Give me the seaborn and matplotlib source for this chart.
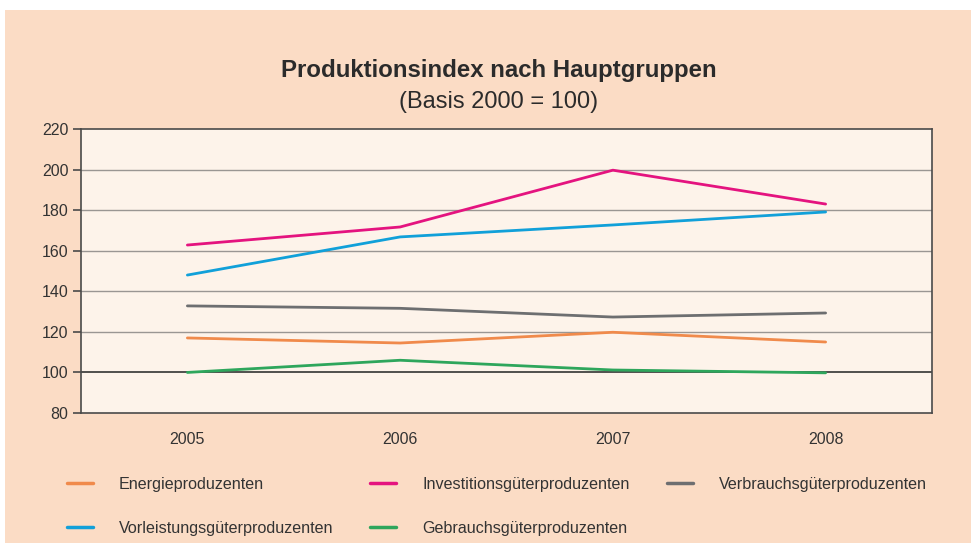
import matplotlib

matplotlib.use("Agg")
import matplotlib.pyplot as plt
import pandas as pd
import seaborn as sns
from matplotlib.lines import Line2D
from matplotlib.patches import Rectangle

years = ["2005", "2006", "2007", "2008"]
energie = [117.0, 114.5, 119.8, 115.0]
investitionsgueter = [162.8, 171.7, 199.7, 183.0]
verbrauchsgueter = [132.8, 131.6, 127.3, 129.3]
vorleistungsgueter = [148.0, 166.8, 172.7, 179.1]
gebrauchsgueter = [100.0, 106.0, 101.2, 99.8]

series = {
    "Energieproduzenten": energie,
    "Investitionsgüterproduzenten": investitionsgueter,
    "Verbrauchsgüterproduzenten": verbrauchsgueter,
    "Vorleistungsgüterproduzenten": vorleistungsgueter,
    "Gebrauchsgüterproduzenten": gebrauchsgueter,
}
colors = {
    "Energieproduzenten": "#f08a4b",
    "Investitionsgüterproduzenten": "#e4137f",
    "Verbrauchsgüterproduzenten": "#6d6e70",
    "Vorleistungsgüterproduzenten": "#11a0d9",
    "Gebrauchsgüterproduzenten": "#2ea65c",
}

rows = []
for name, vals in series.items():
    for y, v in zip(years, vals):
        rows.append({"Jahr": y, "Gruppe": name, "Index": v})
df = pd.DataFrame(rows)

sns.set_style("white")
plt.rcParams["font.family"] = ["Liberation Sans", "DejaVu Sans"]

fig = plt.figure(figsize=(9.71, 5.49), dpi=100, facecolor="white")
fig.patches.append(Rectangle((5 / 971, 6 / 549), 966 / 971, 533 / 549,
                             transform=fig.transFigure, facecolor="#fbdcc5",
                             edgecolor="none", zorder=-5))

ax = fig.add_axes([81 / 971, 136 / 549, 851 / 971, 284 / 549])
ax.set_facecolor("#fdf3ea")

for yv in range(100, 220, 20):
    ax.axhline(yv, color="#333333" if yv == 100 else "#9a9693",
               lw=1.2 if yv == 100 else 1.0, zorder=1)

sns.lineplot(data=df, x="Jahr", y="Index", hue="Gruppe", palette=colors,
             linewidth=2.0, ax=ax, legend=False, zorder=3)

ax.set_xlim(-0.5, 3.5)
ax.set_ylim(80, 220)
ax.set_yticks(range(80, 221, 20))
ax.set_xlabel("")
ax.set_ylabel("")
for s in ax.spines.values():
    s.set_color("#4a4a4a")
    s.set_linewidth(1.2)
ax.tick_params(axis="y", length=6, width=1.2, color="#4a4a4a", labelsize=11.5,
               labelcolor="#333333", left=True, pad=3)
ax.tick_params(axis="x", length=0, labelsize=11.5, labelcolor="#333333", pad=14)

fig.text(499 / 971, 1 - 70 / 549, "Produktionsindex nach Hauptgruppen", ha="center",
         va="center", fontsize=17.3, fontweight="bold", color="#2b2b2b")
fig.text(499 / 971, 1 - 102 / 549, "(Basis 2000 = 100)", ha="center", va="center",
         fontsize=17, color="#2b2b2b")

order = ["Energieproduzenten", "Vorleistungsgüterproduzenten",
         "Investitionsgüterproduzenten", "Gebrauchsgüterproduzenten",
         "Verbrauchsgüterproduzenten"]
handles = [Line2D([], [], color=colors[n], lw=2.5) for n in order]
fig.legend(handles, order, loc="upper left", bbox_to_anchor=(67 / 971, 1 - 477 / 549),
           ncol=3, frameon=False, fontsize=11.65, handlelength=1.6, handletextpad=1.6,
           columnspacing=2.3, labelspacing=1.77, borderpad=0, borderaxespad=0,
           labelcolor="#333333")

fig.savefig("out.png", dpi=100, facecolor="white")
